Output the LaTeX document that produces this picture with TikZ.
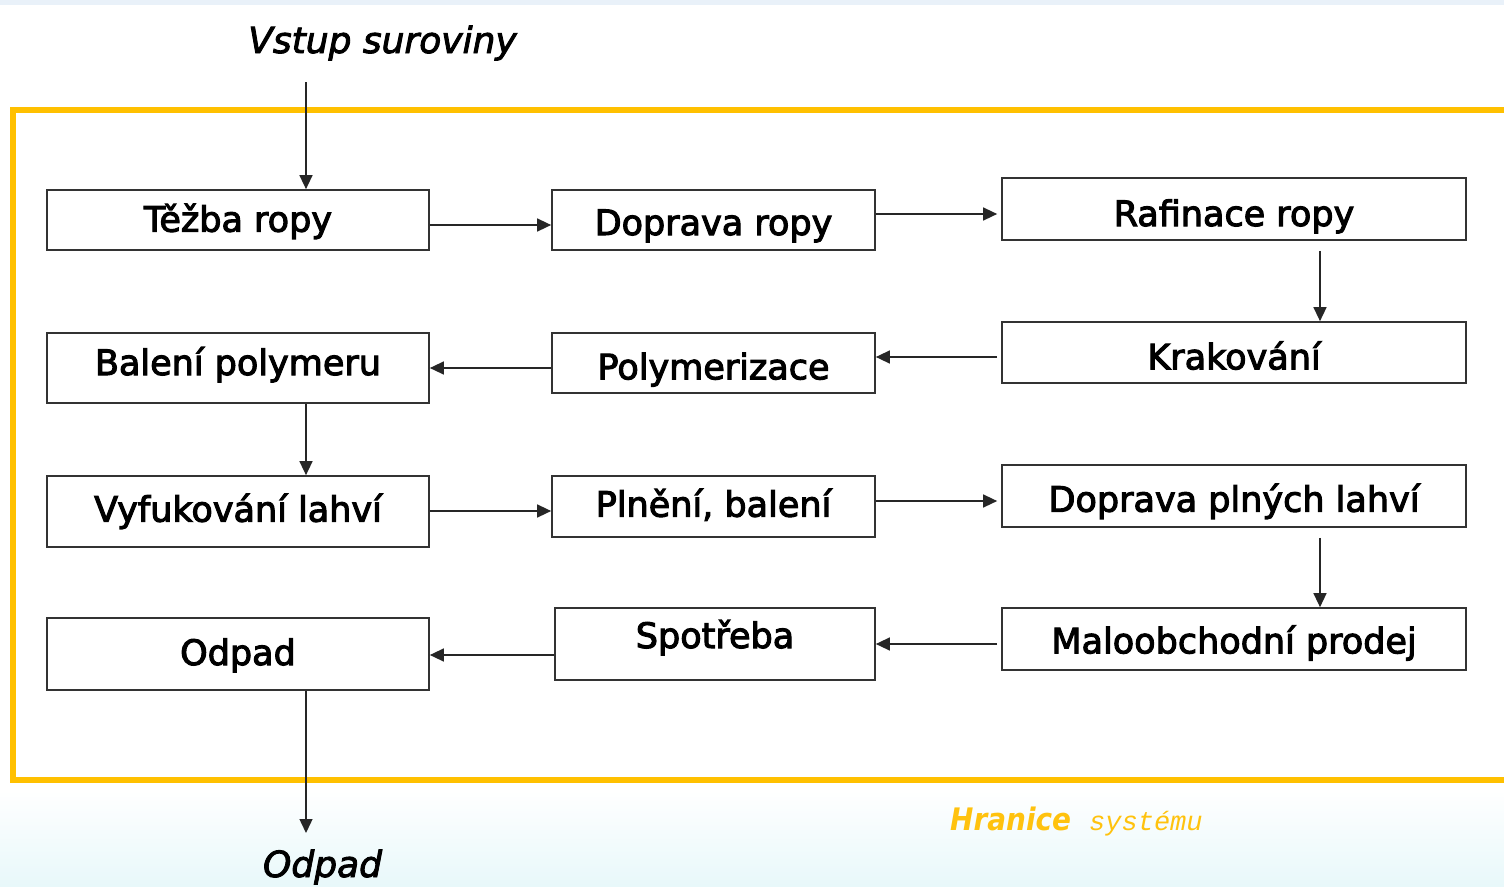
\documentclass[tikz,border=0pt]{standalone}
\usepackage{fontspec}
\setmainfont{DejaVuSans}[Extension=.ttf, FakeBold=3,
  ItalicFont=DejaVuSans-Oblique, ItalicFeatures={FakeBold=2.5}]
\newfontfamily\condfam{DejaVuSansCondensed}[Extension=.ttf,
  BoldFont=DejaVuSansCondensed-Bold, ItalicFont=DejaVuSansCondensed-Oblique,
  BoldItalicFont=DejaVuSansCondensed-BoldOblique]
\newfontfamily\monofam{Liberation Mono}
\usetikzlibrary{arrows.meta,calc}
\definecolor{frameorange}{HTML}{FFC000}
\definecolor{labelorange}{HTML}{FFC20E}
\definecolor{boxline}{HTML}{333333}
\definecolor{skytint}{HTML}{E8F8FA}
\definecolor{topstrip}{HTML}{E9F1F9}
\tikzset{
  stage/.style={draw=boxline, line width=1.7pt, fill=white, inner sep=0pt,
    text depth=0pt, font=\fontsize{35}{40}\selectfont},
  flow/.style={draw=black!85, line width=1.4pt,
    -{Triangle[length=14pt,width=13pt]}},
  outerlabel/.style={font=\fontsize{36}{42}\selectfont\itshape, inner sep=0pt, anchor=base},
}
\begin{document}
\begin{tikzpicture}[x=1pt,y=-1pt]
  % canvas and soft background
  \useasboundingbox (0,0) rectangle (1504,886);
  \fill[white] (0,0) rectangle (1504,886);
  \fill[topstrip] (0,0) rectangle (1504,5);
  \shade[top color=white, bottom color=skytint] (0,790) rectangle (1504,886);

  % system boundary
  \draw[frameorange, line width=6pt] (1510,110) -- (13,110) -- (13,780) -- (1510,780);

  % process stages (text height sets where each baseline sits)
  \node[stage, minimum width=382pt, minimum height=60pt, text height=23.4pt] (tezba) at (238,220) {Těžba ropy};
  \node[stage, minimum width=323pt, minimum height=60pt, text height=30pt] (doprava) at (713.5,220) {Doprava ropy};
  \node[stage, minimum width=464pt, minimum height=62pt, text height=34pt] (rafinace) at (1234,209) {Rafinace ropy};

  \node[stage, minimum width=382pt, minimum height=70pt, text height=14pt] (baleni) at (238,368) {Balení polymeru};
  \node[stage, minimum width=323pt, minimum height=60pt, text height=32.6pt] (polym) at (713.5,363) {Polymerizace};
  \node[stage, minimum width=464pt, minimum height=61pt, text height=33.6pt] (krak) at (1234,352.5) {Krakování};

  \node[stage, minimum width=382pt, minimum height=71pt, text height=20.4pt] (vyfuk) at (238,511.5) {Vyfukování lahví};
  \node[stage, minimum width=323pt, minimum height=61pt, text height=20.4pt] (plneni) at (713.5,506.5) {Plnění, balení};
  \node[stage, minimum width=464pt, minimum height=62pt, text height=31.4pt] (dopravaplne) at (1234,496) {Doprava plných lahví};

  \node[stage, minimum width=382pt, minimum height=72pt, text height=22pt] (odpad) at (238,654) {Odpad};
  \node[stage, minimum width=320pt, minimum height=72pt, text height=8pt] (spotreba) at (715,644) {Spotřeba};
  \node[stage, minimum width=464pt, minimum height=62pt, text height=28.6pt] (malo) at (1234,639) {Maloobchodní prodej};

  % inputs and outputs of the system
  \node[outerlabel] (vstup) at (382.5,53) {Vstup suroviny};
  \node[outerlabel] (odpadout) at (322.5,877) {Odpad};
  \coordinate (vin) at (306,82);
  \coordinate (vout) at (306,833);

  \node[inner sep=0pt, anchor=base west, text=labelorange,
        font=\fontsize{31}{36}\selectfont\condfam\bfseries\itshape] (hranice) at (950,830) {Hranice};
  \node[inner sep=0pt, anchor=base west, text=labelorange,
        font=\fontsize{27}{30}\selectfont\monofam\itshape] (systemu) at (1089,830) {systému};

  % material flow
  \draw[flow] (vin) -- (vin |- tezba.north);
  \draw[flow] (tezba.east |- 0,225) -- (doprava.west |- 0,225);
  \draw[flow] (doprava.east |- 0,214) -- ($(rafinace.west |- 0,214)+(-4,0)$);
  \draw[flow] ($(rafinace.south -| 1320,0)+(0,10)$) -- (krak.north -| 1320,0);
  \draw[flow] ($(krak.west |- 0,357)+(-4,0)$) -- (polym.east |- 0,357);
  \draw[flow] (polym.west |- 0,368) -- (baleni.east |- 0,368);
  \draw[flow] (baleni.south -| vin) -- (vyfuk.north -| vin);
  \draw[flow] (vyfuk.east |- 0,511) -- (plneni.west |- 0,511);
  \draw[flow] (plneni.east |- 0,501) -- ($(dopravaplne.west |- 0,501)+(-4,0)$);
  \draw[flow] ($(dopravaplne.south -| 1320,0)+(0,10)$) -- (malo.north -| 1320,0);
  \draw[flow] ($(malo.west |- 0,644)+(-4,0)$) -- (spotreba.east |- 0,644);
  \draw[flow] (spotreba.west |- 0,655) -- (odpad.east |- 0,655);
  \draw[flow] (odpad.south -| vin) -- (vout);
\end{tikzpicture}
\end{document}
